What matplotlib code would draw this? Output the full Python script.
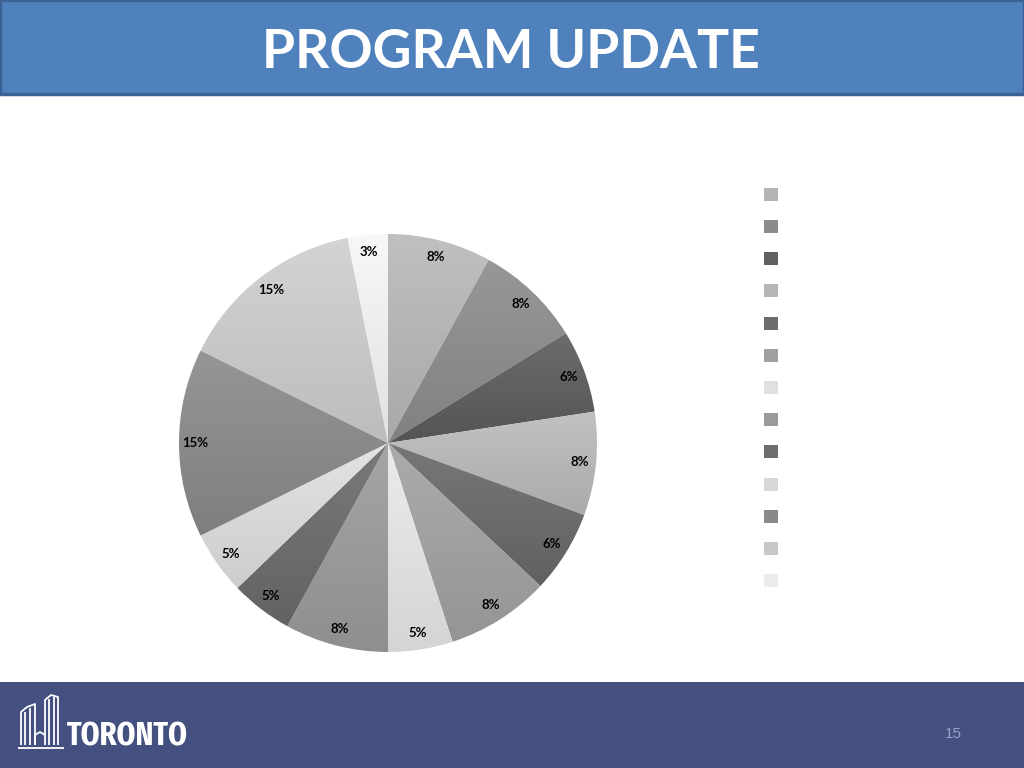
import numpy as np
import matplotlib
matplotlib.use('Agg')
import matplotlib.pyplot as plt
from matplotlib.patches import Rectangle
from matplotlib.lines import Line2D
from matplotlib.colors import LinearSegmentedColormap, to_rgb
from matplotlib import font_manager

# slice shares (%) clockwise from 12 o'clock
shares = [8.0, 8.2, 6.4, 8.0, 6.4, 8.0, 5.0, 8.0, 4.8, 4.9, 14.6, 14.6, 3.1]
# legend entries on the slide carry no visible text
legend_labels = ['', '', '', '', '', '', '', '', '', '', '', '', '']
colors = ['#b4b4b4', '#8c8c8c', '#606060', '#b6b6b6', '#6c6c6c', '#a0a0a0',
          '#e0e0e0', '#9a9a9a', '#6e6e6e', '#d8d8d8', '#8a8a8a', '#c8c8c8',
          '#ececec']

title = 'PROGRAM UPDATE'
page_no = '15'

W, H = 1024, 768
fig = plt.figure(figsize=(W / 100, H / 100), dpi=100)
fig.patch.set_facecolor('white')


def rect(x0, y0, x1, y1):
    # pixel box (from top-left) -> figure fraction [l, b, w, h]
    return [x0 / W, 1 - y1 / H, (x1 - x0) / W, (y1 - y0) / H]


def fx(x):
    return x / W


def fy(y):
    return 1 - y / H


# title bar
fig.add_artist(Rectangle((fx(0), fy(94)), 1, 94 / H, transform=fig.transFigure,
                         facecolor='#4f81bd', edgecolor='#3a6295', linewidth=2.5))
fig.text(fx(511), fy(52), title, color='white', fontsize=38.5, fontweight='bold',
         family=['Lato', 'DejaVu Sans'], ha='center', va='center')

# footer bar
fig.add_artist(Rectangle((0, 0), 1, fy(682), transform=fig.transFigure,
                         facecolor='#44507f', edgecolor='none'))
fig.text(fx(953), fy(734), page_no, color='#98a1c6', fontsize=11,
         family=['Liberation Sans', 'DejaVu Sans'], ha='center', va='center')

# city hall outline
icon = [
    [(21, 745), (21, 712), (27, 707), (35, 704), (35, 745)],
    [(25, 745), (25, 712)],
    [(30, 745), (30, 708)],
    [(45, 745), (45, 700), (51, 695), (58, 697), (58, 745)],
    [(49, 745), (49, 699)],
    [(54, 745), (54, 697)],
    [(35, 745), (35, 735), (40, 732), (45, 735)],
    [(18, 748), (64, 748)],
]
for pts in icon:
    xs = [fx(p[0]) for p in pts]
    ys = [fy(p[1]) for p in pts]
    fig.add_artist(Line2D(xs, ys, transform=fig.transFigure, color='white',
                          linewidth=1.3, solid_capstyle='butt'))

# narrowest bold font available for the wordmark
narrow = None
rank = 99
for f in font_manager.fontManager.ttflist:
    p = f.fname.lower().replace('-', '').replace('_', '')
    if 'bold' not in p or 'semibold' in p or 'extrabold' in p or 'italic' in p:
        continue
    for i, key in enumerate(['extracondensed', 'condensed', 'narrow']):
        if key in p and 'semicondensed' not in p and i < rank:
            rank = i
            narrow = f.fname
if narrow:
    fp = font_manager.FontProperties(fname=narrow)
else:
    fp = font_manager.FontProperties(family='DejaVu Sans', weight='bold')
logo = fig.text(fx(67), fy(745), 'TORONTO', color='white', fontproperties=fp,
                ha='left', va='baseline')
logo.set_fontsize(40)
r = fig.canvas.get_renderer()
ext = logo.get_window_extent(r)
logo.set_fontsize(min(40 * 121 / ext.width, 40 * 50 / ext.height))

# pie
ax = fig.add_axes(rect(179, 234, 597, 652))
wedges, texts, autotexts = ax.pie(
    shares, colors=colors, startangle=90, counterclock=False,
    autopct=lambda p: f'{int(p + 0.5)}%', pctdistance=0.92,
    wedgeprops=dict(linewidth=0),
    textprops=dict(fontsize=9.5, fontweight='bold', color='black',
                   family=['Lato', 'DejaVu Sans']))

# soft vertical gradient inside each slice (lighter at top)
for w, c in zip(wedges, colors):
    base = np.array(to_rgb(c))
    dark = np.clip(base - 0.045, 0, 1)
    light = np.clip(base + 0.045, 0, 1)
    cmap = LinearSegmentedColormap.from_list('g', [dark, light])
    bb = w.get_path().get_extents()
    grad = np.linspace(0, 1, 128).reshape(-1, 1)
    im = ax.imshow(grad, cmap=cmap, extent=[bb.x0, bb.x1, bb.y0, bb.y1],
                   origin='lower', aspect='auto', zorder=0.5,
                   interpolation='bilinear')
    im.set_clip_path(w)
    w.set_facecolor('none')
for t in autotexts:
    t.set_zorder(5)

ax.set_xlim(-1, 1)
ax.set_ylim(-1, 1)
ax.set_aspect('equal')
ax.axis('off')

# legend swatches
lax = fig.add_axes(rect(758, 178, 784, 597))
n = len(shares)
lax.scatter(np.zeros(n), np.arange(n), marker='s', s=88, c=colors,
            edgecolors='none')
for i, lab in enumerate(legend_labels):
    lax.text(0.8, i, lab, va='center', fontsize=9)
lax.set_xlim(-1, 1)
lax.set_ylim(n - 0.5, -0.5)
lax.axis('off')

fig.savefig('out.png', dpi=100)
